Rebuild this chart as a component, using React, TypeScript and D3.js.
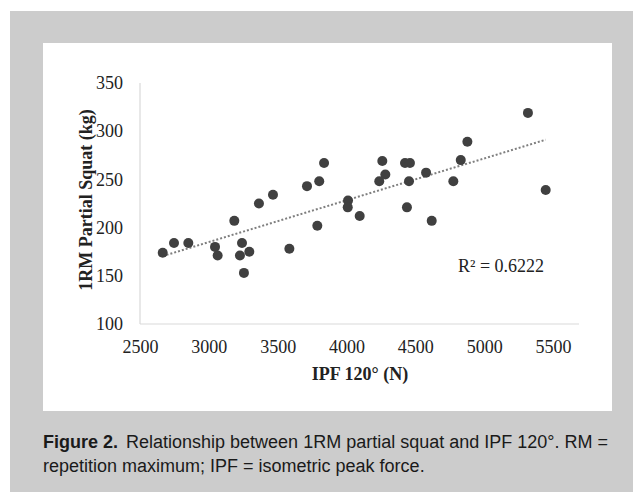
import React, { useRef, useEffect } from 'react';
import * as d3 from 'd3';

// IPF 120° (N) and 1RM partial squat (kg)
const ipf = [2665, 2747, 2851, 3045, 3064, 3185, 3241, 3226, 3294, 3255, 3364, 3466, 3585, 3713, 3802, 3837, 3788,
  4011, 4009, 4096, 4260, 4282, 4238, 4425, 4461, 4454, 4439, 4578, 4619, 4776, 4830, 4878, 5318, 5447];
const squat = [174, 184, 184, 180, 171, 207, 184, 171, 175, 153, 225, 234, 178, 243, 248, 267, 202,
  228, 221, 212, 269, 255, 248, 267, 267, 248, 221, 257, 207, 248, 270, 289, 319, 239];

const xTicks = [2500, 3000, 3500, 4000, 4500, 5000, 5500];
const yTicks = [100, 150, 200, 250, 300, 350];

const rSquaredLabel = 'R² = 0.6222';
const xTitle = 'IPF 120° (N)';
const yTitle = '1RM Partial Squat (kg)';
const captionBold = 'Figure 2.';
const captionLine1 = 'Relationship between 1RM partial squat and IPF 120°. RM =';
const captionLine2 = 'repetition maximum; IPF = isometric peak force.';

const W = 633;
const H = 492;
const serif = '"Liberation Serif", "Times New Roman", serif';
const sans = '"Liberation Sans", Arial, sans-serif';

const App = () => {
  const ref = useRef<SVGSVGElement>(null);

  useEffect(() => {
    const svg = d3.select(ref.current);
    svg.selectAll('*').remove();

    // gray figure box with the white chart panel
    svg.append('rect').attr('x', 10).attr('y', 11).attr('width', W - 10).attr('height', H - 11).attr('fill', '#cccccc');
    svg.append('rect').attr('x', 43).attr('y', 43).attr('width', 569).attr('height', 368).attr('fill', '#ffffff');

    const x = d3.scaleLinear().domain([2500, 5500]).range([140, 553]);
    const y = d3.scaleLinear().domain([100, 350]).range([324, 83]);

    // axis lines (Excel style, light gray, no ticks)
    svg.append('line')
      .attr('x1', x(2500)).attr('x2', 579).attr('y1', y(100)).attr('y2', y(100))
      .attr('stroke', '#d9d9d9').attr('stroke-width', 1.2);
    svg.append('line')
      .attr('x1', x(2500)).attr('x2', x(2500)).attr('y1', y(100)).attr('y2', y(350))
      .attr('stroke', '#d9d9d9').attr('stroke-width', 1.2);

    const xAxis = svg.append('g')
      .attr('transform', `translate(0,${y(100)})`)
      .call(d3.axisBottom(x).tickValues(xTicks).tickSize(0).tickPadding(16).tickFormat(d3.format('d')));
    const yAxis = svg.append('g')
      .attr('transform', `translate(${x(2500)},0)`)
      .call(d3.axisLeft(y).tickValues(yTicks).tickSize(0).tickPadding(17).tickFormat(d3.format('d')));
    [xAxis, yAxis].forEach(g => {
      g.select('.domain').remove();
      g.selectAll('text')
        .attr('font-family', serif)
        .attr('font-size', 18)
        .attr('fill', '#222');
    });

    // axis titles
    svg.append('text')
      .attr('x', 360).attr('y', 380)
      .attr('text-anchor', 'middle')
      .attr('font-family', serif).attr('font-size', 18).attr('font-weight', 'bold').attr('fill', '#222')
      .text(xTitle);
    svg.append('text')
      .attr('transform', 'translate(92,200) rotate(-90)')
      .attr('text-anchor', 'middle')
      .attr('font-family', serif).attr('font-size', 18).attr('font-weight', 'bold').attr('fill', '#222')
      .text(yTitle);

    // least-squares trendline over the data range
    const mx = d3.mean(ipf) as number;
    const my = d3.mean(squat) as number;
    const slope = d3.sum(ipf, (v, i) => (v - mx) * (squat[i] - my)) / d3.sum(ipf, v => (v - mx) ** 2);
    const intercept = my - slope * mx;
    const [xMin, xMax] = d3.extent(ipf) as [number, number];
    const trend = d3.line<number>().x(v => x(v)).y(v => y(intercept + slope * v));
    svg.append('path')
      .attr('d', trend([xMin, xMax]))
      .attr('fill', 'none')
      .attr('stroke', '#7f7f7f')
      .attr('stroke-width', 2)
      .attr('stroke-dasharray', '2 2');

    // points
    svg.append('g')
      .selectAll('circle')
      .data(ipf)
      .join('circle')
      .attr('cx', d => x(d))
      .attr('cy', (d, i) => y(squat[i]))
      .attr('r', 5)
      .attr('fill', '#404040');

    svg.append('text')
      .attr('x', 458).attr('y', 272)
      .attr('font-family', serif).attr('font-size', 18).attr('fill', '#222')
      .text(rSquaredLabel);

    // caption
    const cap = svg.append('text')
      .attr('x', 43).attr('y', 448)
      .attr('font-family', sans).attr('font-size', 18).attr('fill', '#1a1a1a');
    cap.append('tspan').attr('font-weight', 'bold').text(captionBold);
    cap.append('tspan').attr('dx', 8).text(captionLine1);
    svg.append('text')
      .attr('x', 43).attr('y', 472)
      .attr('font-family', sans).attr('font-size', 18).attr('fill', '#1a1a1a')
      .text(captionLine2);
  }, []);

  return (
    <div style={{ position: 'absolute', left: 0, top: 0 }}>
      <svg ref={ref} width={W} height={H} style={{ display: 'block' }}></svg>
    </div>
  );
};

export default App;
